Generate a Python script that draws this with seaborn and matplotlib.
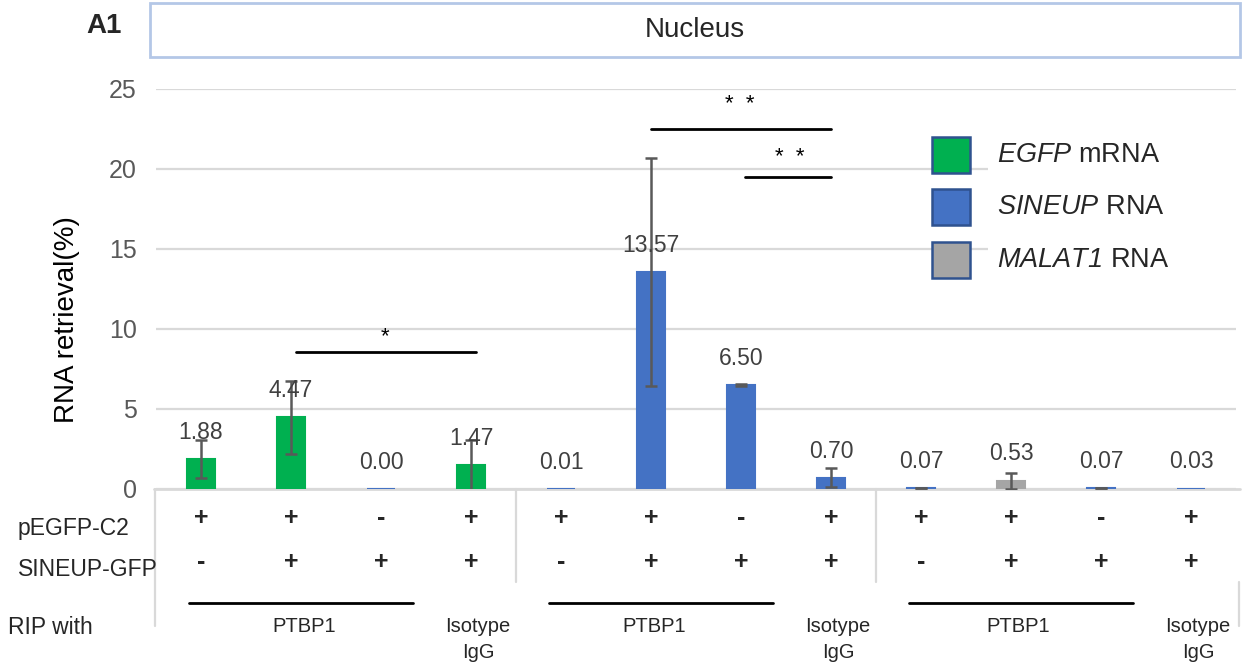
import numpy as np
import pandas as pd
import seaborn as sns
import matplotlib
matplotlib.use("Agg")
import matplotlib.pyplot as plt
from matplotlib import transforms
from matplotlib.patches import Rectangle
from matplotlib.lines import Line2D

# ---------------- data ----------------
bars = ["b1", "b2", "b3", "b4", "b5", "b6", "b7", "b8", "b9", "b10", "b11", "b12"]
values = [1.88, 4.47, 0.00, 1.47, 0.01, 13.57, 6.50, 0.70, 0.07, 0.53, 0.07, 0.03]
errors = [1.18, 2.28, 0.0, 1.60, 0.0, 7.13, 0.05, 0.60, 0.02, 0.50, 0.02, 0.0]
bar_color_key = ["EGFP", "EGFP", "SINEUP", "EGFP",
                 "SINEUP", "SINEUP", "SINEUP", "SINEUP",
                 "SINEUP", "MALAT1", "SINEUP", "SINEUP"]
pegfp_row = ["+", "+", "-", "+", "+", "+", "-", "+", "+", "+", "-", "+"]
sineup_row = ["-", "+", "+", "+", "-", "+", "+", "+", "-", "+", "+", "+"]
legend_labels = [r"$\it{EGFP}$ mRNA", r"$\it{SINEUP}$ RNA", r"$\it{MALAT1}$ RNA"]
legend_keys = ["EGFP", "SINEUP", "MALAT1"]
yticks = [0, 5, 10, 15, 20, 25]
# significance: (start bar, end bar, height, label, label x, label y)
sig_lines = [(1.05, 3.05, 8.56, "*", 2.04, 9.5),
             (5.0, 7.0, 22.5, "*  *", 5.99, 24.0),
             (6.04, 7.0, 19.5, "*  *", 6.54, 20.7)]
ptbp1_offsets = [1.15, 1.03, 1.08]

palette = {"EGFP": "#00B050", "SINEUP": "#4472C4", "MALAT1": "#A5A5A5"}

sns.set_theme(style="white")
plt.rcParams["font.family"] = ["Liberation Sans", "DejaVu Sans"]
plt.rcParams["mathtext.fontset"] = "custom"
plt.rcParams["mathtext.it"] = "Liberation Sans:italic"
plt.rcParams["mathtext.rm"] = "Liberation Sans:italic"

W, H = 1242, 671
fig = plt.figure(figsize=(W / 100, H / 100), dpi=100)

def fx(px):
    return px / W

def fy(py):
    return 1 - py / H

ax_left, ax_right = 156, 1236
ax = fig.add_axes([fx(ax_left), fy(489), fx(ax_right) - fx(ax_left), fy(89) - fy(489)])

df = pd.DataFrame({"bar": bars, "value": values, "key": bar_color_key})
sns.barplot(data=df, x="bar", y="value", hue="key", palette=palette,
            dodge=False, width=0.32, errorbar=None, legend=False, ax=ax,
            linewidth=1.5, saturation=1)
for p in ax.patches:
    p.set_edgecolor(p.get_facecolor())
    p.set_zorder(3)

xs = np.arange(len(values))
mask = np.array(errors) > 0
ax.errorbar(xs[mask], np.array(values)[mask], yerr=np.array(errors)[mask],
            fmt="none", ecolor="#595959", elinewidth=1.8, capsize=4.5,
            capthick=1.8, zorder=4)

for x, v in zip(xs, values):
    ax.annotate(f"{v:.2f}", (x, v), xytext=(0, 11), textcoords="offset points",
                ha="center", va="bottom", fontsize=16.5, color="#404040", zorder=5)

ax.set_xlim(-0.5, len(values) - 0.5)
ax.set_ylim(0, 25)
ax.set_yticks(yticks)
ax.set_yticklabels([str(t) for t in yticks], fontsize=18, color="#595959")
ax.tick_params(axis="y", length=0, pad=14)
ax.set_xticks([])
ax.set_xlabel("")
ax.set_ylabel("")
ax.yaxis.grid(True, color="#D9D9D9", linewidth=1.6)
ax.set_axisbelow(True)
for s in ax.spines.values():
    s.set_visible(False)

# x-axis line (below the bars so zero-height bars show on top)
span = ax_right - ax_left
ax.axhline(0, xmin=(154 - ax_left) / span, xmax=(1240 - ax_left) / span,
           color="#D9D9D9", linewidth=2, zorder=2, clip_on=False)

# significance brackets
for x0, x1, y, lab, tx, ty in sig_lines:
    ax.plot([x0, x1], [y, y], color="black", linewidth=2, zorder=5, clip_on=False)
    ax.text(tx, ty, lab, ha="center", va="center", fontsize=16, color="black")

# y label
fig.text(fx(67), fy(320), "RNA retrieval(%)", rotation=90, ha="center",
         va="center", fontsize=20, color="black")

# title box
fig.add_artist(Rectangle((fx(150), fy(57)), fx(1240) - fx(150), fy(3) - fy(57),
                         transform=fig.transFigure, facecolor="white",
                         edgecolor="#B4C7E7", linewidth=2))
fig.text(fx(695), fy(30), "Nucleus", ha="center", va="center", fontsize=20)
fig.text(fx(104), fy(26), "A1", ha="center", va="center", fontsize=20,
         fontweight="bold")

# legend
fig.add_artist(Rectangle((fx(988), fy(285)), fx(1238) - fx(988), fy(130) - fy(285),
                         transform=fig.transFigure, facecolor="white",
                         edgecolor="none"))
leg_y = [155, 207, 260]
for key, lab, yy in zip(legend_keys, legend_labels, leg_y):
    fig.add_artist(Rectangle((fx(932), fy(yy + 18)), fx(970) - fx(932), fy(yy - 18) - fy(yy + 18),
                             transform=fig.transFigure, facecolor=palette[key],
                             edgecolor="#2F528F", linewidth=1.8))
    fig.text(fx(997), fy(yy), lab, ha="left", va="center", fontsize=19.5)

# table below
tr = transforms.blended_transform_factory(ax.transData, fig.transFigure)
for x, a, b in zip(xs, pegfp_row, sineup_row):
    fig.text(x, fy(518), a, transform=tr, ha="center", va="center",
             fontsize=18, fontweight="bold")
    fig.text(x, fy(562), b, transform=tr, ha="center", va="center",
             fontsize=18, fontweight="bold")
fig.text(fx(18), fy(528), "pEGFP-C2", ha="left", va="center", fontsize=16.5)
fig.text(fx(18), fy(570), "SINEUP-GFP", ha="left", va="center", fontsize=16.5)
fig.text(fx(8), fy(627), "RIP with", ha="left", va="center", fontsize=16.5)

for g in range(3):
    base = 4 * g
    fig.add_artist(Line2D([base - 0.13, base + 2.36], [fy(603), fy(603)],
                          color="black", linewidth=2, transform=tr))
    fig.text(base + ptbp1_offsets[g], fy(627), "PTBP1", transform=tr, ha="center",
             va="center", fontsize=14.5)
    fig.text(base + 3.08, fy(626), "Isotype", transform=tr, ha="center",
             va="center", fontsize=14.5)
    fig.text(base + 3.08, fy(652), "IgG", transform=tr, ha="center",
             va="center", fontsize=14.5)

vline_kw = dict(color="#D9D9D9", linewidth=1.6, transform=fig.transFigure)
fig.add_artist(Line2D([fx(155), fx(155)], [fy(489), fy(626)], **vline_kw))
fig.add_artist(Line2D([fx(1239), fx(1239)], [fy(582), fy(626)], **vline_kw))
for sep in [3.5, 7.5]:
    fig.add_artist(Line2D([sep, sep], [fy(489), fy(582)], color="#D9D9D9",
                          linewidth=1.6, transform=tr))

fig.savefig("out.png", dpi=100, facecolor="white")
